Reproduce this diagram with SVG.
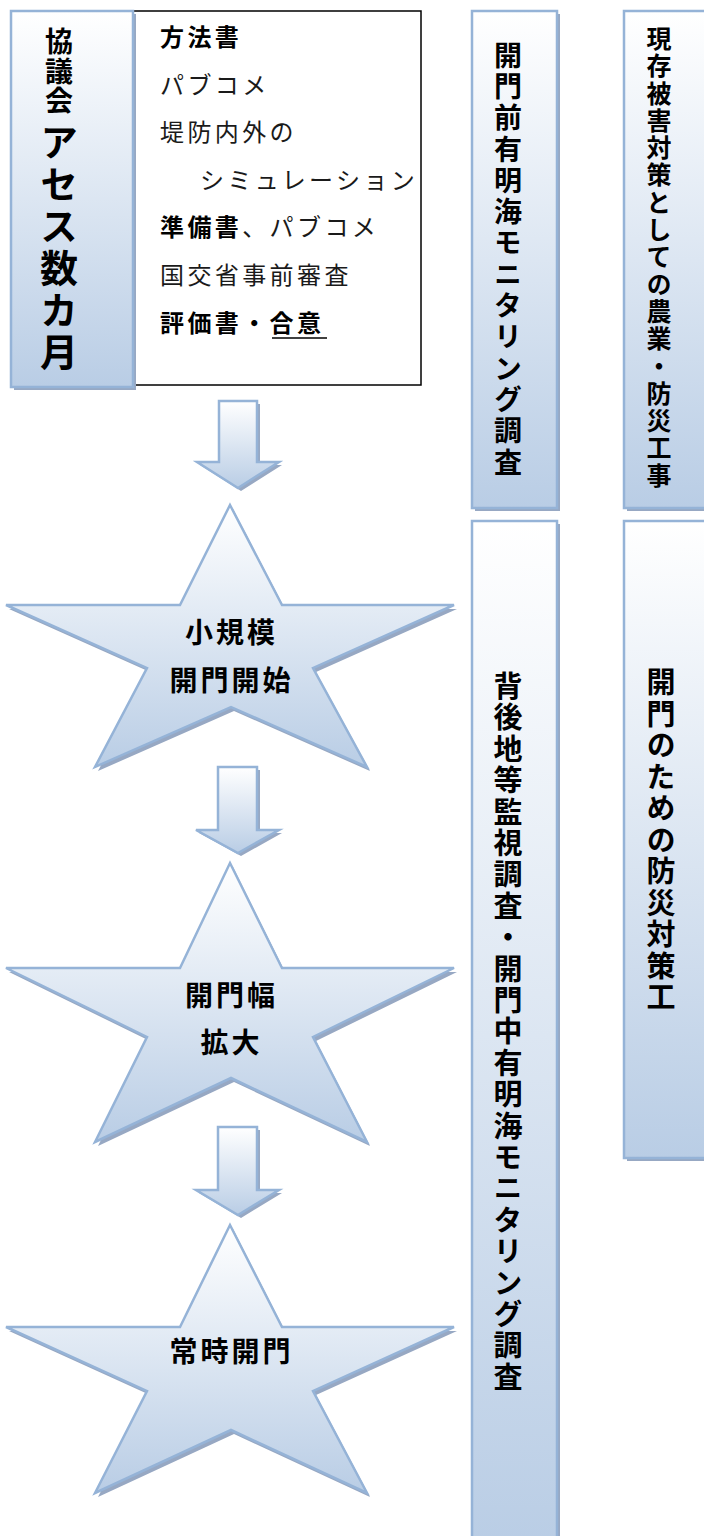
<svg xmlns="http://www.w3.org/2000/svg" width="704" height="1536" viewBox="0 0 704 1536">
<defs>
<linearGradient id="fillG" x1="0" y1="0" x2="0" y2="1">
<stop offset="0" stop-color="#ffffff"/>
<stop offset="1" stop-color="#b9cde5"/>
</linearGradient>
</defs>
<style>
.box{fill:url(#fillG);stroke:#95b3d7;stroke-width:2.5}
.sh{fill:#97a8c3}
.t{font-family:"Noto Sans CJK JP","Noto Sans CJK SC",sans-serif;fill:#000}
.b{font-weight:bold}
.n{font-weight:normal;fill:#1a1a1a}
.ls{letter-spacing:3.4px}
.v{writing-mode:vertical-rl;text-orientation:mixed}
</style>
<rect width="704" height="1536" fill="#ffffff"/>

<g id="steps-box">
<rect x="133" y="11" width="288" height="374" fill="#ffffff" stroke="#000" stroke-width="1.5"/>
<g class="t ls" font-size="24">
<text class="b" x="160" y="46">方法書</text>
<text class="n" x="160" y="94">パブコメ</text>
<text class="n" x="160" y="141">堤防内外の</text>
<text class="n" x="200" y="189">シミュレーション</text>
<text x="160" y="236"><tspan class="b">準備書</tspan><tspan class="n">、パブコメ</tspan></text>
<text class="n" x="160" y="284">国交省事前審査</text>
<text class="b" x="160" y="332">評価書・合意</text>
</g>
<line x1="272" y1="338" x2="327" y2="338" stroke="#000" stroke-width="1.5"/>
</g>

<g id="council">
<rect class="sh" x="14" y="14" width="122" height="376"/>
<rect class="box" x="11" y="11" width="122" height="376"/>
<text class="t b v" x="59" y="27.5" font-size="28" style="letter-spacing:1.5px">協議会</text>
<text class="t b v" x="59" y="123" font-size="38" style="letter-spacing:4px">アセス数カ月</text>
</g>

<g id="monitoring-before">
<rect class="sh" x="475" y="14" width="85" height="497"/>
<rect class="box" x="472" y="11" width="85" height="497"/>
<text class="t b v" x="508" y="41" font-size="28" style="letter-spacing:3.3px">開門前有明海モニタリング調査</text>
</g>

<g id="monitoring-during">
<rect class="sh" x="475" y="524" width="85" height="1030"/>
<rect class="box" x="472" y="521" width="85" height="1030"/>
<text class="t b v" x="508" y="671.5" font-size="29" style="letter-spacing:2.4px">背後地等監視調査・開門中有明海モニタリング調査</text>
</g>

<g id="current-works">
<rect class="sh" x="627" y="14" width="92" height="497"/>
<rect class="box" x="624" y="11" width="92" height="497"/>
<text class="t b v" x="659" y="26" font-size="25" style="letter-spacing:2.3px">現存被害対策としての農業・防災工事</text>
</g>

<g id="gate-works">
<rect class="sh" x="627" y="524" width="92" height="637"/>
<rect class="box" x="624" y="521" width="92" height="637"/>
<text class="t b v" x="661" y="667.5" font-size="29" style="letter-spacing:2.5px">開門のための防災対策工</text>
</g>

<g id="connectors">
<polygon class="sh" transform="translate(3,3)" points="219,401 257,401 257,462 279,462 238,488 197,462 219,462"/>
<polygon class="box" stroke-width="2" points="219,401 257,401 257,462 279,462 238,488 197,462 219,462"/>
<polygon class="sh" transform="translate(3,3)" points="218,767 257,767 257,830 279,830 238,853 196,830 218,830"/>
<polygon class="box" stroke-width="2" points="218,767 257,767 257,830 279,830 238,853 196,830 218,830"/>
<polygon class="sh" transform="translate(3,3)" points="218,1127 257,1127 257,1190 279,1190 238,1215 196,1190 218,1190"/>
<polygon class="box" stroke-width="2" points="218,1127 257,1127 257,1190 279,1190 238,1215 196,1190 218,1190"/>
</g>

<g id="star-small-opening">
<polygon class="sh" transform="translate(3,4)" points="230,505 282,605 454,605 313,668 367,767 231,707 95,767 147,668 6,605 180,605"/>
<polygon class="box" stroke-width="2.5" points="230,505 282,605 454,605 313,668 367,767 231,707 95,767 147,668 6,605 180,605"/>
<text class="t b" font-size="28" text-anchor="middle" style="letter-spacing:3px"><tspan x="231.5" y="643">小規模</tspan><tspan x="231.5" y="691">開門開始</tspan></text>
</g>

<g id="star-widen">
<polygon class="sh" transform="translate(3,4)" points="230,863 282,968 454,968 313,1037 367,1142 231,1078 95,1142 147,1037 6,968 180,968"/>
<polygon class="box" stroke-width="2.5" points="230,863 282,968 454,968 313,1037 367,1142 231,1078 95,1142 147,1037 6,968 180,968"/>
<text class="t b" font-size="28" text-anchor="middle" style="letter-spacing:3px"><tspan x="231.5" y="1006">開門幅</tspan><tspan x="231.5" y="1053">拡大</tspan></text>
</g>

<g id="star-permanent">
<polygon class="sh" transform="translate(3,4)" points="230,1225 282,1327 454,1327 313,1391 367,1493 231,1430 95,1493 147,1391 6,1327 180,1327"/>
<polygon class="box" stroke-width="2.5" points="230,1225 282,1327 454,1327 313,1391 367,1493 231,1430 95,1493 147,1391 6,1327 180,1327"/>
<text class="t b" font-size="28" text-anchor="middle" style="letter-spacing:3px"><tspan x="231.5" y="1362">常時開門</tspan></text>
</g>
</svg>
